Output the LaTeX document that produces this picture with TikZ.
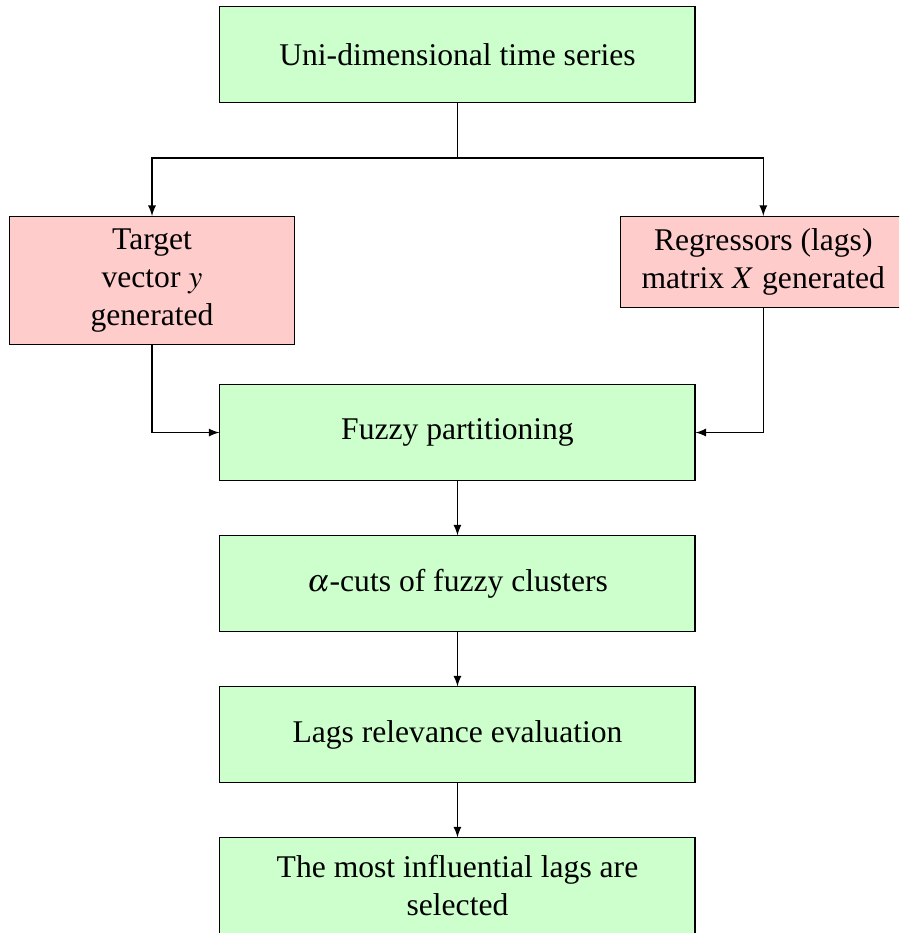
\documentclass[tikz,border=0pt]{standalone}
\usepackage{mathptmx}
\usepackage{fontspec}
\setmainfont{Liberation Serif}
\begin{document}
\begin{tikzpicture}[>=latex]
\tikzstyle{every node}=[font=\fontsize{12}{14.6}\selectfont]
\tikzstyle{stage}=[draw, fill=green!20, align=center, minimum width=6.34cm, minimum height=1.27cm]
\tikzstyle{gen}=[draw, fill=red!20, align=center, minimum width=3.8cm, inner ysep=4.5pt, anchor=north]

\clip (0,0) rectangle (12,-12.453);

\node[stage] (ts) at (6.106,-0.727)  {Uni-dimensional time series};
\node[gen]   (tv) at (2.029,-2.883)  {Target\\ vector $y$\\ generated};
\node[gen]   (rm) at (10.188,-2.883) {Regressors (lags)\\ matrix $X$ generated};
\node[stage] (fp) at (6.106,-5.773)  {Fuzzy partitioning};
\node[stage] (ac) at (6.106,-7.788)  {$\alpha$-cuts of fuzzy clusters};
\node[stage] (lr) at (6.106,-9.804)  {Lags relevance evaluation};
\node[stage] (sl) at (6.106,-11.819) {The most influential lags are\\ selected};
\coordinate (split) at (6.106,-2.109);

\draw[->] (ts) -- (split) -| (tv);
\draw[->] (split) -| (rm);
\draw[->] (tv) |- (fp);
\draw[->] (rm) |- (fp);
\draw[->] (fp) -- (ac);
\draw[->] (ac) -- (lr);
\draw[->] (lr) -- (sl);
\end{tikzpicture}
\end{document}
